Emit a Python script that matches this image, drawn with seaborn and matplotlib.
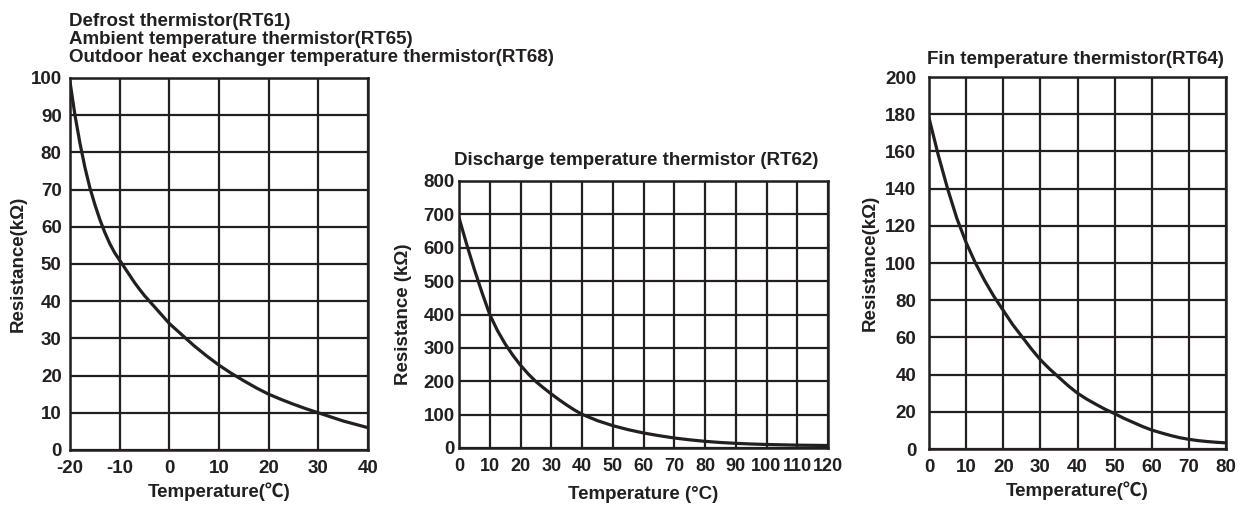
import numpy as np
import pandas as pd
import matplotlib
matplotlib.use("Agg")
import matplotlib.pyplot as plt
import seaborn as sns

# Defrost / ambient / outdoor heat exchanger thermistors (RT61, RT65, RT68)
rt61_temp = [-20, -19, -18, -17, -16, -15, -14, -13, -12, -11, -10, -9, -8, -7, -6, -5,
             -4, -3, -2, -1, 0, 2.5, 5, 7.5, 10, 12.5, 15, 17.5, 20, 22.5, 25, 27.5,
             30, 32.5, 35, 37.5, 40]
rt61_res = [99, 90, 82.5, 76, 70.5, 66, 62, 58.5, 55.5, 53, 51, 49, 47, 45, 43.2, 41.5,
            40, 38.5, 37, 35.5, 34, 31, 28, 25.3, 22.8, 20.6, 18.6, 16.7, 15, 13.6, 12.3,
            11.1, 10, 8.9, 7.8, 6.9, 6]

# Discharge temperature thermistor (RT62)
rt62_temp = [0, 2.5, 5, 7.5, 10, 12.5, 15, 17.5, 20, 22.5, 25, 27.5, 30, 32.5, 35, 37.5,
             40, 45, 50, 55, 60, 65, 70, 75, 80, 85, 90, 95, 100, 110, 120]
rt62_res = [690, 610, 535, 465, 400, 352, 312, 278, 248, 222, 199, 180, 162, 145, 129,
            114, 101, 82, 67, 55, 45, 37, 30, 24.5, 20, 16.5, 14, 12, 10.5, 8.5, 7.5]

# Fin temperature thermistor (RT64)
rt64_temp = [0, 2.5, 5, 7.5, 10, 12.5, 15, 17.5, 20, 22.5, 25, 27.5, 30, 32.5, 35, 37.5,
             40, 42.5, 45, 47.5, 50, 52.5, 55, 57.5, 60, 62.5, 65, 67.5, 70, 72.5, 75,
             77.5, 80]
rt64_res = [178, 158, 140, 124, 111, 100, 90.5, 82, 74.5, 67, 60.5, 54, 48, 43, 38.5, 34,
            30, 26.8, 24, 21.3, 19, 16.5, 14.3, 12.1, 10.2, 8.7, 7.3, 6.1, 5.2, 4.5, 4,
            3.6, 3.3]

left_xticks = [-20, -10, 0, 10, 20, 30, 40]
left_yticks = [0, 10, 20, 30, 40, 50, 60, 70, 80, 90, 100]
mid_xticks = [0, 10, 20, 30, 40, 50, 60, 70, 80, 90, 100, 110, 120]
mid_yticks = [0, 100, 200, 300, 400, 500, 600, 700, 800]
right_xticks = [0, 10, 20, 30, 40, 50, 60, 70, 80]
right_yticks = [0, 20, 40, 60, 80, 100, 120, 140, 160, 180, 200]

sns.set_theme(style="white")
plt.rcParams["font.family"] = ["Liberation Sans", "Noto Sans CJK JP", "DejaVu Sans"]
plt.rcParams["font.weight"] = "bold"

INK = "#231f20"
FS = 13.5

fig = plt.figure(figsize=(12.4, 5.07), dpi=100)
W, H = 1240, 507


def px_axes(x0, y0, x1, y1):
    return fig.add_axes([x0 / W, 1 - y1 / H, (x1 - x0) / W, (y1 - y0) / H])


def style(ax, xt, yt, xpad, ypad, xfs=FS, yfs=FS):
    ax.set_xlim(xt[0], xt[-1])
    ax.set_ylim(yt[0], yt[-1])
    ax.set_xticks(xt)
    ax.set_yticks(yt)
    ax.set_xticklabels([str(v) for v in xt], fontsize=xfs, fontweight="bold", color=INK)
    ax.set_yticklabels([str(v) for v in yt], fontsize=yfs, fontweight="bold", color=INK)
    ax.tick_params(axis="x", length=0, pad=xpad)
    ax.tick_params(axis="y", length=0, pad=ypad)
    ax.grid(True, color=INK, linewidth=1.6)
    ax.set_axisbelow(True)
    for sp in ax.spines.values():
        sp.set_color(INK)
        sp.set_linewidth(1.8)
        sp.set_visible(True)


def curve(ax, t, r):
    df = pd.DataFrame({"Temperature": t, "Resistance": r})
    sns.lineplot(data=df, x="Temperature", y="Resistance", ax=ax, color=INK,
                 linewidth=2.3, zorder=5, clip_on=True)


def title_line(x, y, s):
    fig.text(x / W, 1 - y / H, s, fontsize=FS, fontweight="bold", color=INK,
             va="center", ha="left")


# Left panel
ax1 = px_axes(70, 78, 368, 450)
curve(ax1, rt61_temp, rt61_res)
style(ax1, left_xticks, left_yticks, xpad=7, ypad=6)
ax1.set_xlabel("Temperature(℃)", fontsize=FS, fontweight="bold", color=INK, labelpad=4)
ax1.set_ylabel("Resistance(kΩ)", fontsize=FS, fontweight="bold", color=INK, labelpad=3)
title_line(69, 22, "Defrost thermistor(RT61)")
title_line(69, 40, "Ambient temperature thermistor(RT65)")
title_line(69, 58, "Outdoor heat exchanger temperature thermistor(RT68)")

# Middle panel
ax2 = px_axes(459, 181, 828, 448)
curve(ax2, rt62_temp, rt62_res)
style(ax2, mid_xticks, mid_yticks, xpad=7, ypad=3, xfs=13)
ax2.set_xlabel("Temperature (°C)", fontsize=FS, fontweight="bold", color=INK, labelpad=8)
ax2.set_ylabel("Resistance (kΩ)", fontsize=FS, fontweight="bold", color=INK, labelpad=8)
title_line(454, 160, "Discharge temperature thermistor (RT62)")

# Right panel
ax3 = px_axes(929, 77, 1226, 449)
curve(ax3, rt64_temp, rt64_res)
style(ax3, right_xticks, right_yticks, xpad=7, ypad=9)
ax3.set_xlabel("Temperature(℃)", fontsize=FS, fontweight="bold", color=INK, labelpad=4)
ax3.set_ylabel("Resistance(kΩ)", fontsize=FS, fontweight="bold", color=INK, labelpad=5)
title_line(927, 60, "Fin temperature thermistor(RT64)")

fig.savefig("out.png", dpi=100, facecolor="white")
